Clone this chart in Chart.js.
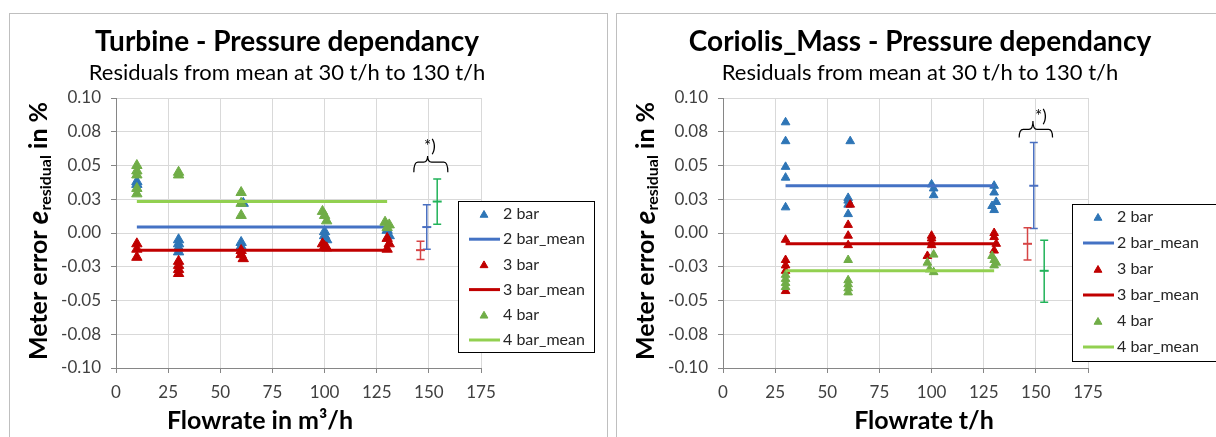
<!DOCTYPE html>
<html>
<head>
<meta charset="utf-8">
<script src="https://cdn.jsdelivr.net/npm/chart.js@4.4.1/dist/chart.umd.min.js"></script>
<style>
  body { margin: 0; background: #fff; width: 1216px; height: 437px; overflow: hidden; position: relative; }
  .panel { position: absolute; top: 13px; border: 1px solid #bfbfbf; background: #fff; overflow: hidden; }
  #leftPanel { left: 9px; width: 597px; height: 440px; }
  #rightPanel { left: 616px; width: 620px; height: 440px; }
  canvas { display: block; }
</style>
</head>
<body>
<div class="panel" id="leftPanel"><canvas id="turbineChart" width="597" height="423"></canvas></div>
<div class="panel" id="rightPanel"><canvas id="coriolisChart" width="599" height="423"></canvas></div>
<script>
const yTickValues = [-0.1, -0.075, -0.05, -0.025, 0, 0.025, 0.05, 0.075, 0.1];
const yTickLabels = ['-0.10', '-0.08', '-0.05', '-0.03', '0.00', '0.03', '0.05', '0.08', '0.10'];
const seriesNames = ['2 bar', '3 bar', '4 bar'];

// Turbine, flowrate in m3/h, residual in %
const turbineFlow2 = [10, 10, 30, 30, 30, 30, 61, 60, 60, 100, 100, 101, 130, 131];
const turbineRes2 = [0.038, 0.036, -0.005, -0.008, -0.011, -0.014, 0.022, -0.007, -0.010, 0.001, -0.002, -0.005, 0.002, -0.002];
const turbineFlow3 = [10, 10, 10, 30, 30, 30, 30, 60, 60, 61, 99, 100, 101, 130, 131, 130];
const turbineRes3 = [-0.008, -0.012, -0.018, -0.021, -0.024, -0.027, -0.030, -0.013, -0.016, -0.019, -0.008, -0.010, -0.011, -0.004, -0.008, -0.012];
const turbineFlow4 = [10, 10, 10, 10, 10, 30, 30, 60, 60, 60, 99, 100, 101, 129, 131, 130];
const turbineRes4 = [0.050, 0.046, 0.043, 0.033, 0.029, 0.045, 0.043, 0.030, 0.022, 0.013, 0.016, 0.013, 0.009, 0.008, 0.006, 0.004];
const turbineMeanRange = [10, 130];
const turbineMeans = [0.0044, -0.0127, 0.0233];
const turbineErrX = [149, 146, 154];
const turbineErrLow = [-0.012, -0.0196, 0.0064];
const turbineErrHigh = [0.021, -0.0061, 0.040];

// Coriolis mass, flowrate in t/h
const coriolisFlow2 = [30, 30, 30, 30, 30, 61, 60, 60, 60, 60, 100, 101, 101, 130, 130, 131, 129, 130];
const coriolisRes2 = [0.082, 0.068, 0.049, 0.041, 0.019, 0.068, 0.026, 0.024, 0.021, 0.014, 0.036, 0.033, 0.028, 0.035, 0.030, 0.023, 0.020, 0.017];
const coriolisFlow3 = [30, 30, 30, 30, 30, 61, 60, 60, 60, 100, 100, 100, 100, 98, 130, 130, 131, 130];
const coriolisRes3 = [-0.005, -0.020, -0.024, -0.028, -0.043, 0.021, 0.006, -0.002, -0.009, -0.002, -0.004, -0.007, -0.009, -0.017, 0.000, -0.003, -0.008, -0.013];
const coriolisFlow4 = [30, 30, 30, 30, 60, 60, 60, 60, 60, 101, 98, 99, 101, 129, 130, 131, 130];
const coriolisRes4 = [-0.031, -0.034, -0.037, -0.040, -0.020, -0.035, -0.038, -0.041, -0.044, -0.016, -0.022, -0.027, -0.029, -0.017, -0.020, -0.022, -0.024];
const coriolisMeanRange = [30, 130];
const coriolisMeans = [0.035, -0.008, -0.028];
const coriolisErrX = [149, 146, 154];
const coriolisErrLow = [0.0033, -0.020, -0.0513];
const coriolisErrHigh = [0.067, 0.0038, -0.0053];

const markerColors = ['#2e75b6', '#c00000', '#70ad47'];
const lineColors = ['#4472c4', '#c00000', '#92d050'];
const errColors = ['#4a6fc0', '#d64545', '#22b35a'];
const FONT = 'Lato, "Open Sans", sans-serif';

function toPoints(xs, ys) {
  return xs.map((x, i) => ({ x: x, y: ys[i] }));
}

function buildDatasets(flows, residuals, range, means, radius) {
  const sets = [];
  seriesNames.forEach((name, i) => {
    sets.push({
      label: name,
      data: toPoints(flows[i], residuals[i]),
      showLine: false,
      pointStyle: 'triangle',
      pointRadius: radius,
      backgroundColor: markerColors[i],
      borderColor: markerColors[i],
      borderWidth: 1
    });
    sets.push({
      label: name + '_mean',
      data: toPoints(range, [means[i], means[i]]),
      showLine: true,
      pointRadius: 0,
      borderColor: lineColors[i],
      backgroundColor: lineColors[i],
      borderWidth: 3
    });
  });
  // Excel paints later series on top
  sets.forEach((s, i) => { s.order = sets.length - i; });
  return sets;
}

function makeDecor(cfg) {
  return {
    id: 'decor',
    afterDatasetsDraw(chart) {
      const { ctx } = chart;
      const xs = chart.scales.x, ys = chart.scales.y;
      cfg.errX.forEach((fx, i) => {
        const px = xs.getPixelForValue(fx);
        const pm = ys.getPixelForValue(cfg.errMean[i]);
        const pl = ys.getPixelForValue(cfg.errLow[i]);
        const ph = ys.getPixelForValue(cfg.errHigh[i]);
        ctx.save();
        ctx.strokeStyle = errColors[i];
        ctx.lineWidth = 1.5;
        ctx.beginPath();
        ctx.moveTo(px, ph); ctx.lineTo(px, pl);
        ctx.moveTo(px - 4, ph); ctx.lineTo(px + 4, ph);
        ctx.moveTo(px - 4, pl); ctx.lineTo(px + 4, pl);
        ctx.stroke();
        ctx.lineWidth = 2;
        ctx.beginPath();
        ctx.moveTo(px - 4.5, pm); ctx.lineTo(px + 4.5, pm);
        ctx.stroke();
        ctx.restore();
      });

      // curly brace over the error bars
      const b = cfg.brace;
      const x0 = xs.getPixelForValue(b.from), xm = xs.getPixelForValue(b.tip), x1 = xs.getPixelForValue(b.to);
      const yEnd = ys.getPixelForValue(b.end), yBar = ys.getPixelForValue(b.bar), yTip = ys.getPixelForValue(b.top);
      const r = 4;
      ctx.save();
      ctx.strokeStyle = '#000';
      ctx.lineWidth = 1.2;
      ctx.beginPath();
      ctx.moveTo(x0, yEnd);
      ctx.quadraticCurveTo(x0, yBar, x0 + r, yBar);
      ctx.lineTo(xm - r, yBar);
      ctx.quadraticCurveTo(xm, yBar, xm, yTip);
      ctx.quadraticCurveTo(xm, yBar, xm + r, yBar);
      ctx.lineTo(x1 - r, yBar);
      ctx.quadraticCurveTo(x1, yBar, x1, yEnd);
      ctx.stroke();
      ctx.fillStyle = '#000';
      ctx.font = '17px ' + FONT;
      ctx.textAlign = 'center';
      ctx.textBaseline = 'middle';
      ctx.fillText('*)', xs.getPixelForValue(b.labelX), ys.getPixelForValue(b.labelY));
      ctx.restore();
    },
    afterDraw(chart) {
      const { ctx } = chart;
      ctx.save();
      ctx.fillStyle = '#000';
      ctx.textAlign = 'center';
      ctx.textBaseline = 'middle';
      ctx.font = 'bold 28px ' + FONT;
      ctx.fillText(cfg.title, cfg.titleX, 28);
      ctx.font = '22px ' + FONT;
      ctx.fillText('Residuals from mean at 30 t/h to 130 t/h', cfg.titleX, 59);
      ctx.font = 'bold 25px ' + FONT;
      ctx.fillText(cfg.xTitle, cfg.xTitleX, 407);

      // y axis title with italic e and subscript
      const parts = [
        { t: 'Meter error ', f: 'bold 25px ' + FONT, dy: 0 },
        { t: 'e', f: 'italic bold 28px ' + FONT, dy: 0 },
        { t: 'residual', f: 'bold 16px ' + FONT, dy: 7 },
        { t: ' in %', f: 'bold 25px ' + FONT, dy: 0 }
      ];
      let total = 0;
      parts.forEach(p => { ctx.font = p.f; p.w = ctx.measureText(p.t).width; total += p.w; });
      ctx.translate(29, 217);
      ctx.rotate(-Math.PI / 2);
      ctx.textAlign = 'left';
      ctx.textBaseline = 'middle';
      let cx = -total / 2;
      parts.forEach(p => { ctx.font = p.f; ctx.fillText(p.t, cx, p.dy); cx += p.w; });
      ctx.restore();

      // legend box laid over the plot
      const L = cfg.legend;
      ctx.save();
      ctx.fillStyle = '#fff';
      ctx.fillRect(L.x, L.y, L.w, L.h);
      ctx.strokeStyle = '#000';
      ctx.lineWidth = 1;
      ctx.strokeRect(L.x + 0.5, L.y + 0.5, L.w, L.h);
      ctx.font = '16px ' + FONT;
      ctx.textBaseline = 'middle';
      ctx.textAlign = 'left';
      chart.data.datasets.forEach((ds, i) => {
        const cy = L.y + L.first + i * L.step;
        if (ds.showLine) {
          ctx.strokeStyle = ds.borderColor;
          ctx.lineWidth = 3;
          ctx.beginPath();
          ctx.moveTo(L.x + 11, cy); ctx.lineTo(L.x + 42, cy);
          ctx.stroke();
        } else {
          ctx.fillStyle = ds.backgroundColor;
          ctx.strokeStyle = ds.borderColor;
          ctx.lineWidth = 1;
          Chart.helpers.drawPoint(ctx, { pointStyle: 'triangle', radius: 4.5, borderWidth: 1 }, L.x + 26, cy + 1);
        }
        ctx.fillStyle = '#262626';
        ctx.fillText(ds.label, L.x + 45, cy);
      });
      ctx.restore();
    }
  };
}

function makeChart(id, datasets, cfg, rightPad) {
  return new Chart(document.getElementById(id), {
    type: 'scatter',
    data: { datasets: datasets },
    options: {
      responsive: false,
      animation: false,
      layout: { padding: { left: 0, top: 84, right: rightPad, bottom: 0 } },
      plugins: { legend: { display: false }, tooltip: { enabled: false } },
      scales: {
        x: {
          type: 'linear', min: 0, max: 175,
          ticks: { stepSize: 25, color: '#404040', font: { family: FONT, size: 17 }, padding: 9 },
          grid: { color: '#d9d9d9', tickColor: '#868686', tickLength: 5 },
          border: { color: '#868686' },
          afterFit: s => { s.height = 69; }
        },
        y: {
          type: 'linear', min: -0.1, max: 0.1,
          afterBuildTicks: s => { s.ticks = yTickValues.map(v => ({ value: v })); },
          ticks: { color: '#404040', font: { family: FONT, size: 17 }, padding: 10, callback: (v, i) => yTickLabels[i] },
          grid: { color: '#d9d9d9', tickColor: '#868686', tickLength: 5 },
          border: { color: '#868686' },
          afterFit: s => { s.width = 106; }
        }
      }
    },
    plugins: [makeDecor(cfg)]
  });
}

makeChart('turbineChart',
  buildDatasets([turbineFlow2, turbineFlow3, turbineFlow4], [turbineRes2, turbineRes3, turbineRes4], turbineMeanRange, turbineMeans, 6),
  {
    title: 'Turbine - Pressure dependancy', titleX: 277,
    xTitle: 'Flowrate in m³/h', xTitleX: 250,
    errX: turbineErrX, errMean: turbineMeans, errLow: turbineErrLow, errHigh: turbineErrHigh,
    brace: { from: 142.8, tip: 149.4, to: 159.1, end: 0.045, bar: 0.0525, top: 0.057, labelX: 150.5, labelY: 0.064 },
    legend: { x: 448, y: 187, w: 136, h: 151, first: 13, step: 25.2 }
  }, 126);

makeChart('coriolisChart',
  buildDatasets([coriolisFlow2, coriolisFlow3, coriolisFlow4], [coriolisRes2, coriolisRes3, coriolisRes4], coriolisMeanRange, coriolisMeans, 5),
  {
    title: 'Coriolis_Mass - Pressure dependancy', titleX: 303,
    xTitle: 'Flowrate t/h', xTitleX: 307,
    errX: coriolisErrX, errMean: coriolisMeans, errLow: coriolisErrLow, errHigh: coriolisErrHigh,
    brace: { from: 142, tip: 148.6, to: 158, end: 0.0707, bar: 0.0768, top: 0.083, labelX: 152.4, labelY: 0.086 },
    legend: { x: 455, y: 190, w: 160, h: 157, first: 13, step: 26 }
  }, 128);
</script>
</body>
</html>
